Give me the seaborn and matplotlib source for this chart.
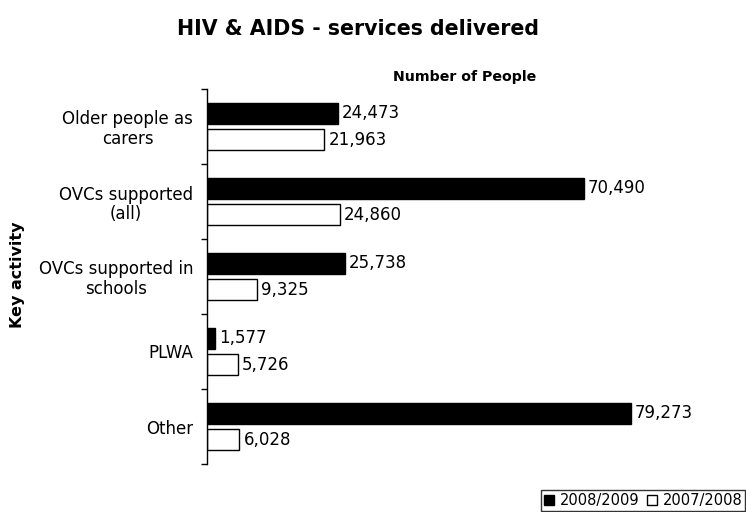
import matplotlib
matplotlib.use("Agg")
import matplotlib.pyplot as plt
from matplotlib.lines import Line2D
import seaborn as sns
import pandas as pd
import numpy as np

categories = ["Older people as\ncarers", "OVCs supported\n(all)", "OVCs supported in\nschools", "PLWA", "Other"]
series_names = ["2008/2009", "2007/2008"]
values_2008_2009 = [24473, 70490, 25738, 1577, 79273]
values_2007_2008 = [21963, 24860, 9325, 5726, 6028]

df = pd.DataFrame({
    "activity": categories * 2,
    "period": [series_names[0]] * len(categories) + [series_names[1]] * len(categories),
    "people": values_2008_2009 + values_2007_2008,
})

sns.set_theme(style="white")
plt.rcParams["font.family"] = ["DejaVu Sans"]
plt.rcParams["text.color"] = "black"
plt.rcParams["axes.labelcolor"] = "black"
plt.rcParams["ytick.color"] = "black"

fig = plt.figure(figsize=(7.46, 5.12), dpi=100)
ax = fig.add_axes([207 / 746, 1 - 464 / 512, 516 / 746, 375 / 512])

palette = {series_names[0]: "black", series_names[1]: "white"}
sns.barplot(data=df, y="activity", x="people", hue="period", hue_order=series_names,
            order=categories, palette=palette, orient="h", width=0.7, gap=0.22,
            edgecolor="black", linewidth=1, ax=ax, legend=False)

for cont in ax.containers:
    ax.bar_label(cont, labels=[f"{v:,.0f}" for v in cont.datavalues],
                 padding=3, fontsize=12, color="black")

ax.set_xlim(0, 96500)
ax.set_ylim(4.5, -0.5)

# x axis hidden except its label on top
ax.xaxis.set_label_position("top")
ax.set_xlabel("Number of People", fontsize=10.2, fontweight="bold", labelpad=6)
ax.set_xticks([])
ax.set_ylabel("")
fig.text(18 / 746, 1 - 275 / 512, "Key activity", rotation=90, ha="center", va="center",
         fontsize=11.5, fontweight="bold")

for side in ["top", "right", "bottom"]:
    ax.spines[side].set_visible(False)
ax.spines["left"].set_color("black")
ax.spines["left"].set_linewidth(1)

ax.set_yticks(range(len(categories)))
ax.set_yticklabels(categories, fontsize=12, ha="right", multialignment="center",
                   linespacing=1.1)
ax.tick_params(axis="y", which="major", length=0, pad=10)
ax.set_yticks(np.arange(-0.5, len(categories)), minor=True)
ax.tick_params(axis="y", which="minor", length=4, width=1, color="black", direction="out", left=True)

fig.suptitle("HIV & AIDS - services delivered", x=358 / 746, y=1 - 19 / 512,
             fontsize=14.8, fontweight="bold")

handles = [Line2D([], [], marker="s", linestyle="none", markerfacecolor="black",
                  markeredgecolor="black", markersize=7),
           Line2D([], [], marker="s", linestyle="none", markerfacecolor="white",
                  markeredgecolor="black", markersize=7)]
leg = fig.legend(handles, series_names, loc="lower right", bbox_to_anchor=(1.0, 0.0),
                 ncol=2, fontsize=10.5, frameon=True, fancybox=False, edgecolor="black",
                 handlelength=0.7, handletextpad=0.4, columnspacing=0.5,
                 borderpad=0.2, borderaxespad=0.05)
leg.get_frame().set_linewidth(1)

fig.savefig("out.png", dpi=100)
